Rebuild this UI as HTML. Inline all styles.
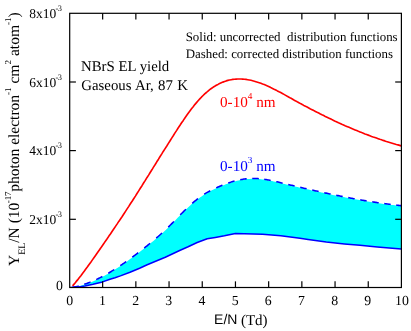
<!DOCTYPE html>
<html><head><meta charset="utf-8">
<style>
html,body{margin:0;padding:0;background:#fff;}
svg{display:block;}
text{font-family:"Liberation Serif",serif;fill:#000;text-rendering:geometricPrecision;}
svg{will-change:transform;}
.tick text{font-size:13.8px;}
.tick text.sup{font-size:8.3px;letter-spacing:-0.3px;}
.sans{font-family:"Liberation Sans",sans-serif;}
</style></head><body>
<svg width="411" height="331" viewBox="0 0 411 331">
<rect width="411" height="331" fill="#fff"/>
<defs><clipPath id="cp"><rect x="69.7" y="13.3" width="331.70" height="274.25"/></clipPath></defs>
<g clip-path="url(#cp)">
<path d="M69.7,287.9 L77.0,287.0 L83.8,284.8 L85.4,284.3 L87.0,283.7 L88.6,283.1 L90.2,282.5 L91.8,281.9 L93.4,281.2 L95.0,280.5 L96.6,279.8 L98.2,279.0 L99.8,278.2 L101.4,277.4 L102.9,276.6 L104.5,275.7 L106.1,274.8 L107.7,273.9 L109.3,273.0 L110.9,272.0 L112.5,271.1 L114.1,270.1 L115.7,269.0 L117.3,268.0 L118.9,266.9 L120.5,265.9 L122.1,264.8 L123.7,263.7 L125.3,262.6 L126.9,261.4 L128.5,260.3 L130.1,259.1 L131.7,258.0 L133.3,256.8 L134.9,255.6 L136.5,254.4 L138.0,253.2 L139.6,251.9 L141.2,250.7 L142.8,249.5 L144.4,248.2 L146.0,247.0 L147.6,245.7 L149.2,244.4 L150.8,243.1 L152.4,241.8 L154.0,240.4 L155.6,239.1 L157.2,237.7 L158.8,236.3 L160.4,234.9 L162.0,233.4 L163.6,231.9 L165.2,230.5 L166.8,228.9 L168.4,227.4 L170.0,225.8 L171.6,224.2 L173.1,222.6 L174.7,220.9 L176.3,219.3 L177.9,217.6 L179.5,216.0 L181.1,214.4 L182.7,212.7 L184.3,211.1 L185.9,209.5 L187.5,208.0 L189.1,206.5 L190.7,205.1 L192.3,203.6 L193.9,202.3 L195.5,201.0 L197.1,199.7 L198.7,198.5 L200.3,197.3 L201.9,196.2 L203.5,195.1 L205.1,194.1 L206.7,193.1 L208.2,192.2 L209.8,191.4 L211.4,190.5 L213.0,189.7 L214.6,189.0 L216.2,188.2 L217.8,187.5 L219.4,186.8 L221.0,186.1 L222.6,185.5 L224.2,184.9 L225.8,184.2 L227.4,183.7 L229.0,183.1 L230.6,182.6 L232.2,182.1 L233.8,181.6 L235.4,181.2 L237.0,180.8 L238.6,180.4 L240.2,180.1 L241.8,179.8 L243.3,179.5 L244.9,179.3 L246.5,179.1 L248.1,179.0 L249.7,178.9 L251.3,178.8 L252.9,178.8 L254.5,178.8 L256.1,178.8 L257.7,178.9 L259.3,179.1 L260.9,179.2 L262.5,179.4 L264.1,179.6 L265.7,179.9 L267.3,180.2 L268.9,180.4 L270.5,180.8 L272.1,181.1 L273.7,181.4 L275.3,181.8 L276.9,182.1 L278.4,182.5 L280.0,182.9 L281.6,183.3 L283.2,183.7 L284.8,184.0 L286.4,184.4 L288.0,184.8 L289.6,185.2 L291.2,185.6 L292.8,185.9 L294.4,186.3 L296.0,186.7 L297.6,187.1 L299.2,187.4 L300.8,187.8 L302.4,188.2 L304.0,188.5 L305.6,188.9 L307.2,189.3 L308.8,189.6 L310.4,190.0 L312.0,190.4 L313.5,190.7 L315.1,191.1 L316.7,191.4 L318.3,191.8 L319.9,192.1 L321.5,192.5 L323.1,192.8 L324.7,193.2 L326.3,193.5 L327.9,193.9 L329.5,194.2 L331.1,194.5 L332.7,194.9 L334.3,195.2 L335.9,195.5 L337.5,195.9 L339.1,196.2 L340.7,196.5 L342.3,196.8 L343.9,197.1 L345.5,197.4 L347.1,197.8 L348.6,198.1 L350.2,198.4 L351.8,198.7 L353.4,199.0 L355.0,199.2 L356.6,199.5 L358.2,199.8 L359.8,200.1 L361.4,200.4 L363.0,200.7 L364.6,200.9 L366.2,201.2 L367.8,201.5 L369.4,201.7 L371.0,202.0 L372.6,202.2 L374.2,202.5 L375.8,202.7 L377.4,203.0 L379.0,203.2 L380.6,203.4 L382.2,203.7 L383.7,203.9 L385.3,204.1 L386.9,204.3 L388.5,204.5 L390.1,204.7 L391.7,204.9 L393.3,205.1 L394.9,205.3 L396.5,205.5 L398.1,205.7 L399.7,205.9 L401.3,206.0 L401.3,249.1 L377.3,246.9 L360.0,245.3 L344.4,243.9 L326.3,241.9 L308.1,239.4 L300.0,238.3 L280.8,235.8 L262.6,234.2 L235.4,233.6 L224.4,235.8 L215.3,237.4 L207.2,238.7 L197.2,242.5 L188.1,246.8 L179.1,250.8 L165.3,257.2 L147.2,264.8 L139.6,268.3 L130.0,272.3 L120.4,275.9 L115.0,277.7 L110.0,279.2 L102.5,281.9 L93.0,284.2 L85.0,285.9 L77.0,287.2 L69.7,287.5 Z" fill="#00ffff" stroke="none"/>
<path d="M69.7,287.5 L77.0,287.2 L85.0,285.9 L93.0,284.2 L102.5,281.9 L110.0,279.2 L115.0,277.7 L120.4,275.9 L130.0,272.3 L139.6,268.3 L147.2,264.8 L165.3,257.2 L179.1,250.8 L188.1,246.8 L197.2,242.5 L207.2,238.7 L215.3,237.4 L224.4,235.8 L235.4,233.6 L262.6,234.2 L280.8,235.8 L300.0,238.3 L308.1,239.4 L326.3,241.9 L344.4,243.9 L360.0,245.3 L377.3,246.9 L401.3,249.1" fill="none" stroke="#0000ff" stroke-width="1.5" stroke-linejoin="round"/>
<path d=" M72.24,287.19 L73.17,287.07 L74.09,286.96 L75.02,286.84 L75.95,286.73 L76.88,286.62 L77.80,286.35 L78.73,286.05 M84.24,284.30 L85.14,284.01 L86.04,283.71 L86.94,283.40 L87.84,283.07 L88.74,282.74 L89.64,282.39 L90.54,282.04 M96.24,279.58 L97.12,279.17 L98.00,278.75 L98.88,278.31 L99.76,277.88 L100.65,277.43 L101.53,276.98 L102.41,276.52 M108.24,273.27 L109.11,272.77 L109.97,272.25 L110.84,271.73 L111.71,271.20 L112.57,270.67 L113.44,270.13 L114.30,269.58 M120.24,265.70 L121.09,265.12 L121.95,264.54 L122.80,263.95 L123.66,263.36 L124.51,262.76 L125.37,262.16 L126.22,261.55 M132.24,257.18 L133.09,256.55 L133.93,255.92 L134.78,255.29 L135.63,254.65 L136.47,254.01 L137.32,253.37 L138.17,252.73 M144.24,248.02 L145.08,247.36 L145.92,246.69 L146.76,246.02 L147.60,245.35 L148.44,244.67 L149.28,243.99 L150.12,243.30 M156.24,238.16 L157.07,237.44 L157.90,236.71 L158.73,235.98 L159.56,235.24 L160.39,234.50 L161.22,233.75 L162.05,233.00 M168.24,227.16 L169.06,226.35 L169.87,225.55 L170.69,224.73 L171.50,223.92 L172.32,223.09 L173.13,222.26 L173.95,221.42 M180.24,214.91 L181.05,214.08 L181.86,213.25 L182.68,212.42 L183.49,211.60 L184.30,210.79 L185.11,209.98 L185.92,209.18 M192.24,203.34 L193.07,202.62 L193.91,201.91 L194.74,201.22 L195.58,200.53 L196.41,199.87 L197.25,199.21 L198.08,198.57 M204.24,194.27 L205.10,193.72 L205.97,193.19 L206.83,192.68 L207.70,192.18 L208.56,191.70 L209.43,191.23 L210.29,190.77 M216.24,187.88 L217.13,187.48 L218.01,187.08 L218.90,186.69 L219.78,186.31 L220.67,185.93 L221.55,185.56 L222.44,185.20 M228.24,183.02 L229.14,182.71 L230.04,182.42 L230.94,182.13 L231.84,181.85 L232.74,181.58 L233.64,181.32 L234.54,181.07 M240.24,179.73 L241.16,179.56 L242.08,179.39 L243.00,179.24 L243.92,179.10 L244.84,178.97 L245.76,178.86 L246.68,178.76 M252.24,178.43 L253.18,178.42 L254.12,178.43 L255.06,178.46 L256.01,178.49 L256.95,178.54 L257.89,178.60 L258.83,178.68 M264.24,179.31 L265.16,179.45 L266.08,179.60 L267.01,179.76 L267.93,179.92 L268.85,180.09 L269.77,180.27 L270.69,180.45 M276.24,181.65 L277.15,181.86 L278.07,182.08 L278.98,182.29 L279.89,182.51 L280.80,182.73 L281.72,182.94 L282.63,183.16 M288.24,184.50 L289.15,184.72 L290.06,184.94 L290.98,185.15 L291.89,185.37 L292.80,185.59 L293.71,185.80 L294.63,186.02 M300.24,187.33 L301.15,187.54 L302.07,187.76 L302.98,187.97 L303.89,188.18 L304.81,188.39 L305.72,188.60 L306.63,188.81 M312.24,190.08 L313.15,190.29 L314.07,190.49 L314.98,190.70 L315.90,190.90 L316.81,191.11 L317.72,191.31 L318.64,191.51 M324.24,192.73 L325.16,192.93 L326.07,193.13 L326.99,193.32 L327.90,193.52 L328.82,193.71 L329.73,193.91 L330.65,194.10 M336.24,195.26 L337.16,195.44 L338.07,195.63 L338.99,195.82 L339.91,196.00 L340.82,196.18 L341.74,196.37 L342.66,196.55 M348.24,197.63 L349.16,197.81 L350.08,197.98 L351.00,198.15 L351.91,198.32 L352.83,198.49 L353.75,198.66 L354.67,198.83 M360.24,199.83 L361.16,199.99 L362.08,200.15 L363.00,200.31 L363.92,200.46 L364.84,200.62 L365.76,200.77 L366.68,200.93 M372.24,201.82 L373.16,201.97 L374.09,202.11 L375.01,202.25 L375.93,202.39 L376.85,202.53 L377.78,202.67 L378.70,202.81 M384.24,203.60 L385.17,203.72 L386.09,203.85 L387.02,203.97 L387.94,204.09 L388.87,204.21 L389.79,204.33 L390.72,204.45 M396.24,205.12 L396.98,205.20 L397.71,205.28 L398.45,205.37 L399.19,205.45 L399.93,205.53 L400.66,205.61 L401.40,205.68 " fill="none" stroke="#0000ff" stroke-width="1.55" stroke-linejoin="round"/>
<path d="M72.6,285.9 L74.3,283.9 L75.9,281.9 L77.6,279.9 L79.2,277.8 L80.9,275.7 L82.5,273.5 L84.2,271.3 L85.8,269.0 L87.5,266.8 L89.1,264.5 L90.8,262.2 L92.4,259.9 L94.1,257.5 L95.7,255.2 L97.4,252.8 L99.0,250.5 L100.7,248.1 L102.3,245.7 L104.0,243.3 L105.6,240.9 L107.3,238.5 L108.9,236.1 L110.6,233.7 L112.2,231.3 L113.9,228.8 L115.5,226.4 L117.2,223.9 L118.8,221.4 L120.5,219.0 L122.2,216.5 L123.8,214.0 L125.5,211.4 L127.1,208.9 L128.8,206.4 L130.4,203.8 L132.1,201.3 L133.7,198.7 L135.4,196.1 L137.0,193.5 L138.7,190.9 L140.3,188.3 L142.0,185.7 L143.6,183.0 L145.3,180.4 L146.9,177.7 L148.6,175.1 L150.2,172.5 L151.9,169.8 L153.5,167.1 L155.2,164.5 L156.8,161.8 L158.5,159.2 L160.1,156.5 L161.8,153.9 L163.4,151.2 L165.1,148.6 L166.8,146.0 L168.4,143.4 L170.1,140.7 L171.7,138.1 L173.4,135.5 L175.0,132.9 L176.7,130.4 L178.3,127.8 L180.0,125.3 L181.6,122.8 L183.3,120.4 L184.9,118.0 L186.6,115.6 L188.2,113.3 L189.9,111.0 L191.5,108.8 L193.2,106.7 L194.8,104.6 L196.5,102.6 L198.1,100.7 L199.8,98.9 L201.4,97.2 L203.1,95.5 L204.7,93.9 L206.4,92.5 L208.0,91.1 L209.7,89.7 L211.3,88.5 L213.0,87.3 L214.7,86.3 L216.3,85.3 L218.0,84.4 L219.6,83.5 L221.3,82.8 L222.9,82.1 L224.6,81.5 L226.2,80.9 L227.9,80.4 L229.5,80.0 L231.2,79.7 L232.8,79.4 L234.5,79.2 L236.1,79.1 L237.8,79.0 L239.4,79.0 L241.1,79.0 L242.7,79.1 L244.4,79.2 L246.0,79.4 L247.7,79.7 L249.3,80.0 L251.0,80.3 L252.6,80.7 L254.3,81.2 L255.9,81.7 L257.6,82.2 L259.2,82.7 L260.9,83.3 L262.6,84.0 L264.2,84.6 L265.9,85.3 L267.5,86.0 L269.2,86.8 L270.8,87.6 L272.5,88.4 L274.1,89.2 L275.8,90.0 L277.4,90.9 L279.1,91.8 L280.7,92.6 L282.4,93.5 L284.0,94.4 L285.7,95.4 L287.3,96.3 L289.0,97.2 L290.6,98.1 L292.3,99.0 L293.9,100.0 L295.6,100.9 L297.2,101.8 L298.9,102.7 L300.5,103.6 L302.2,104.5 L303.8,105.4 L305.5,106.3 L307.1,107.1 L308.8,108.0 L310.5,108.9 L312.1,109.7 L313.8,110.6 L315.4,111.4 L317.1,112.3 L318.7,113.1 L320.4,114.0 L322.0,114.8 L323.7,115.6 L325.3,116.4 L327.0,117.2 L328.6,118.0 L330.3,118.8 L331.9,119.6 L333.6,120.4 L335.2,121.2 L336.9,121.9 L338.5,122.7 L340.2,123.4 L341.8,124.2 L343.5,124.9 L345.1,125.7 L346.8,126.4 L348.4,127.1 L350.1,127.8 L351.7,128.5 L353.4,129.2 L355.1,129.9 L356.7,130.6 L358.4,131.3 L360.0,131.9 L361.7,132.6 L363.3,133.2 L365.0,133.9 L366.6,134.5 L368.3,135.1 L369.9,135.7 L371.6,136.4 L373.2,137.0 L374.9,137.5 L376.5,138.1 L378.2,138.7 L379.8,139.3 L381.5,139.8 L383.1,140.4 L384.8,140.9 L386.4,141.5 L388.1,142.0 L389.7,142.5 L391.4,143.0 L393.0,143.5 L394.7,144.0 L396.3,144.5 L398.0,144.9 L399.6,145.4 L401.3,145.9" fill="none" stroke="#ff0000" stroke-width="1.65" stroke-linejoin="round"/>
</g>
<g stroke="#000" stroke-width="1.2" fill="none">
<rect x="69.7" y="13.3" width="331.7" height="274.2"/>
<line x1="102.65" y1="287.55" x2="102.65" y2="281.35"/><line x1="102.65" y1="13.3" x2="102.65" y2="19.5"/><line x1="135.85" y1="287.55" x2="135.85" y2="281.35"/><line x1="135.85" y1="13.3" x2="135.85" y2="19.5"/><line x1="169.05" y1="287.55" x2="169.05" y2="281.35"/><line x1="169.05" y1="13.3" x2="169.05" y2="19.5"/><line x1="202.25" y1="287.55" x2="202.25" y2="281.35"/><line x1="202.25" y1="13.3" x2="202.25" y2="19.5"/><line x1="235.45" y1="287.55" x2="235.45" y2="281.35"/><line x1="235.45" y1="13.3" x2="235.45" y2="19.5"/><line x1="268.65" y1="287.55" x2="268.65" y2="281.35"/><line x1="268.65" y1="13.3" x2="268.65" y2="19.5"/><line x1="301.85" y1="287.55" x2="301.85" y2="281.35"/><line x1="301.85" y1="13.3" x2="301.85" y2="19.5"/><line x1="335.05" y1="287.55" x2="335.05" y2="281.35"/><line x1="335.05" y1="13.3" x2="335.05" y2="19.5"/><line x1="368.25" y1="287.55" x2="368.25" y2="281.35"/><line x1="368.25" y1="13.3" x2="368.25" y2="19.5"/><line x1="69.7" y1="219.30" x2="75.9" y2="219.30"/><line x1="401.4" y1="219.30" x2="395.2" y2="219.30"/><line x1="69.7" y1="150.60" x2="75.9" y2="150.60"/><line x1="401.4" y1="150.60" x2="395.2" y2="150.60"/><line x1="69.7" y1="82.00" x2="75.9" y2="82.00"/><line x1="401.4" y1="82.00" x2="395.2" y2="82.00"/>
</g>
<g class="tick"><text x="69.8" y="305.2" text-anchor="middle">0</text><text x="102.5" y="305.2" text-anchor="middle">1</text><text x="135.6" y="305.2" text-anchor="middle">2</text><text x="168.8" y="305.2" text-anchor="middle">3</text><text x="202.0" y="305.2" text-anchor="middle">4</text><text x="235.2" y="305.2" text-anchor="middle">5</text><text x="268.3" y="305.2" text-anchor="middle">6</text><text x="301.5" y="305.2" text-anchor="middle">7</text><text x="334.7" y="305.2" text-anchor="middle">8</text><text x="367.8" y="305.2" text-anchor="middle">9</text><text x="401.9" y="305.2" text-anchor="middle">10</text><text x="56.3" y="224.0" text-anchor="end" style="font-size:13.5px">2x10</text><text class="sup" x="55.4" y="216.6">-3</text><text x="56.3" y="155.4" text-anchor="end" style="font-size:13.5px">4x10</text><text class="sup" x="55.4" y="148.0">-3</text><text x="56.3" y="86.9" text-anchor="end" style="font-size:13.5px">6x10</text><text class="sup" x="55.4" y="79.5">-3</text><text x="56.3" y="18.3" text-anchor="end" style="font-size:13.5px">8x10</text><text class="sup" x="55.4" y="10.9">-3</text><text x="62.9" y="290.1" text-anchor="end">0</text></g>
<text x="81" y="71.2" font-size="14.8">NBrS EL yield</text>
<text x="81.3" y="90.2" font-size="14.8" word-spacing="0.65">Gaseous Ar, 87 K</text>
<text x="185.7" y="41.4" font-size="12.9" xml:space="preserve" style="white-space:pre">Solid: uncorrected  distribution functions</text>
<text x="185.7" y="57.5" font-size="12.9">Dashed: corrected distribution functions</text>
<text x="220" y="106.7" font-size="15.2" style="fill:#ff0000">0-10<tspan font-size="9.2" dy="-8">4</tspan><tspan dy="8"> nm</tspan></text>
<text x="220" y="170.6" font-size="15.2" style="fill:#0000ff">0-10<tspan font-size="9.2" dy="-8">3</tspan><tspan dy="8"> nm</tspan></text>
<text x="214.1" y="324.2" font-size="14" class="sans">E/N</text><text x="240.9" y="324.6" font-size="15">(Td)</text>
<text id="ylab" transform="translate(19.0,266) rotate(-90)" font-size="15.5">Y<tspan font-size="9.9" dy="6.2">EL</tspan><tspan dy="-6.2">/N (10</tspan><tspan font-size="9" dy="-8" dx="-0.5" letter-spacing="-0.2">-17</tspan><tspan dy="8">photon electron</tspan><tspan font-size="9" dy="-8">-1</tspan><tspan dy="8"> cm</tspan><tspan font-size="9" dy="-8">2</tspan><tspan dy="8" dx="0.2"> atom</tspan><tspan font-size="9" dy="-8">-1</tspan><tspan dy="8">)</tspan></text>
</svg>
</body></html>
